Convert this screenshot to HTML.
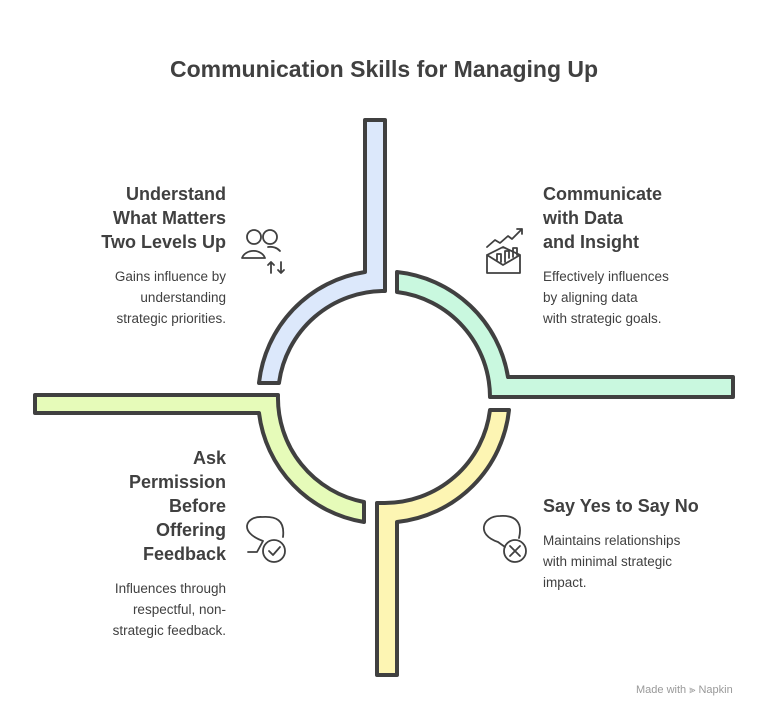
<!DOCTYPE html>
<html><head><meta charset="utf-8"><style>
body{margin:0;width:768px;height:720px;background:#fff;font-family:"Liberation Sans",sans-serif;color:#404040;position:relative;overflow:hidden}
.t{position:absolute;font-weight:bold}
.h{position:absolute;font-weight:bold;font-size:18px;line-height:24px}
.b{position:absolute;font-size:13.5px;line-height:21px}
.r{text-align:right}
</style></head><body>
<div class="t" style="left:0;width:768px;text-align:center;top:56px;font-size:23px">Communication Skills for Managing Up</div>
<svg width="768" height="720" style="position:absolute;left:0;top:0" fill="none" stroke="#404040" stroke-width="4" stroke-linejoin="round">
<path d="M385 120 L385 291 A106 106 0 0 0 279 383 L259 383 A126 126 0 0 1 365 272 L365 120 Z" fill="#dce8fb"/>
<path d="M397 272 A126 126 0 0 1 508 377 L733 377 L733 397 L490 397 A106 106 0 0 0 397 292 Z" fill="#c9f8df"/>
<path d="M490 410 A106 106 0 0 1 384 503 L377 503 L377 675 L397 675 L397 522 A126 126 0 0 0 509 410 Z" fill="#fdf5b3"/>
<path d="M35 395 L278 395 A106 106 0 0 0 364 502 L364 522 A126 126 0 0 1 259 413 L35 413 Z" fill="#e6fbb9"/>
<g stroke-width="1.8" stroke-linecap="round">
<circle cx="254" cy="237" r="7"/><circle cx="270" cy="237" r="7"/>
<path d="M242 258 A12 10 0 0 1 265 258 Z"/><path d="M268 247 A12 10 0 0 1 280 251"/>
<path d="M271 262 V273 M268 265 L271 262 L274 265 M281 262 V273 M278 270 L281 273 L284 270"/>
<path d="M487 247 L495 240 L500 243 L508 236 L512 239 L522 229 M517 229 H522 V234"/>
<path d="M487 255 L503 247 L520 255 V273 H487 Z M487 255 L503 265 L520 255"/>
<path d="M497 260 V254 H501 V262 M505 262 V251 H509 V258 M513 257 V248 H517 V255"/>
<path d="M263 541 C238 532 246 516 262 517 C276 516 285 520 283 537 M263 541 L257 552 L248 552"/>
<circle cx="274" cy="551" r="11"/><path d="M269 551 L273 555 L280 547"/>
<path d="M498 542 C476 535 482 516 500 516 C515 515 523 522 519 538 M498 542 L505 547"/>
<circle cx="515" cy="551" r="11"/><path d="M510 546 L520 556 M520 546 L510 556"/>
</g>
</svg>
<div class="h r" style="right:542px;top:182px;width:200px">Understand<br>What Matters<br>Two Levels Up</div>
<div class="b r" style="right:542px;top:266px;width:200px">Gains influence by<br>understanding<br>strategic priorities.</div>
<div class="h" style="left:543px;top:182px">Communicate<br>with Data<br>and Insight</div>
<div class="b" style="left:543px;top:266px">Effectively influences<br>by aligning data<br>with strategic goals.</div>
<div class="h r" style="right:542px;top:446px;width:200px">Ask<br>Permission<br>Before<br>Offering<br>Feedback</div>
<div class="b r" style="right:542px;top:578px;width:200px">Influences through<br>respectful, non-<br>strategic feedback.</div>
<div class="h" style="left:543px;top:494px">Say Yes to Say No</div>
<div class="b" style="left:543px;top:530px">Maintains relationships<br>with minimal strategic<br>impact.</div>
<div style="position:absolute;left:636px;top:684px;font-size:11px;color:#999">Made with ⫸ Napkin</div>
</body></html>
